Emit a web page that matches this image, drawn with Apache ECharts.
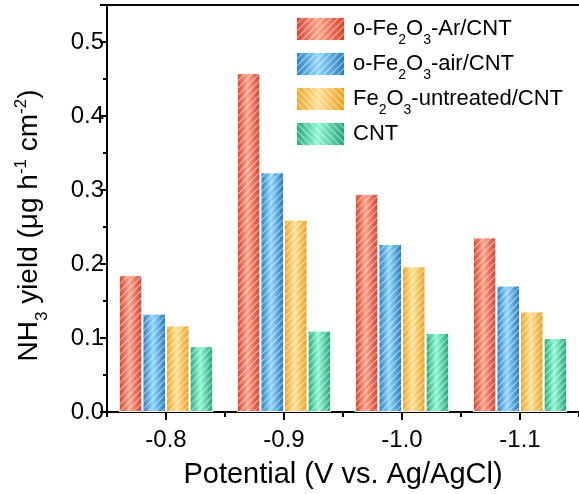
<!DOCTYPE html>
<html>
<head>
<meta charset="utf-8">
<script src="https://cdn.jsdelivr.net/npm/echarts@6/dist/echarts.min.js"></script>
<style>
  html, body { margin: 0; padding: 0; background: #fff; }
  #chart { width: 579px; height: 494px; }
</style>
</head>
<body>
<div id="chart"></div>
<script>
// Applied potentials (V vs. Ag/AgCl)
const potentials = ['-0.8', '-0.9', '-1.0', '-1.1'];

// NH3 yield (μg h-1 cm-2) for each catalyst
const yieldArCNT = [0.185, 0.458, 0.295, 0.236];
const yieldAirCNT = [0.133, 0.324, 0.227, 0.171];
const yieldUntreatedCNT = [0.117, 0.260, 0.197, 0.136];
const yieldCNT = [0.089, 0.110, 0.107, 0.100];

// Legend names (rich text markup for subscripts)
const seriesNames = [
  'o-Fe{s|2}O{s|3}-Ar/CNT',
  'o-Fe{s|2}O{s|3}-air/CNT',
  'Fe{s|2}O{s|3}-untreated/CNT',
  'CNT'
];

const FONT = 'Liberation Sans, Arial, sans-serif';

function shade(edgeL, mid, edgeR) {
  return {
    type: 'linear', x: 0, y: 0, x2: 1, y2: 0,
    colorStops: [
      { offset: 0, color: edgeL },
      { offset: 0.45, color: mid },
      { offset: 1, color: edgeR }
    ]
  };
}

// thin white diagonal hatching
function stripes(rot) {
  return {
    symbol: 'rect',
    symbolSize: 1,
    color: 'rgba(255,255,255,0.55)',
    dashArrayX: [1, 0],
    dashArrayY: [1, 4],
    rotation: rot
  };
}
const UP = -Math.PI / 4;   // "/" hatching
const DOWN = Math.PI / 4;  // "\" hatching

const fills = [
  shade('#d53d29', '#ffa48c', '#d43b27'),
  shade('#2379bd', '#92d6ff', '#2075b6'),
  shade('#eaa11d', '#ffe196', '#e89c18'),
  shade('#20a472', '#8ef8d4', '#1f9f6e')
];
const values = [yieldArCNT, yieldAirCNT, yieldUntreatedCNT, yieldCNT];

const chart = echarts.init(document.getElementById('chart'), null, { renderer: 'canvas' });

chart.setOption({
  animation: false,
  backgroundColor: '#fff',
  textStyle: { fontFamily: FONT },
  grid: { left: 107, right: 0, top: 5, bottom: 81, containLabel: false },
  legend: {
    orient: 'vertical',
    left: 295,
    top: 16,
    itemWidth: 49,
    itemHeight: 24,
    itemGap: 4,
    padding: 0,
    icon: 'rect',
    data: seriesNames.map((n, i) => ({
      name: n,
      itemStyle: { decal: stripes(i < 2 ? UP : DOWN) }
    })),
    textStyle: {
      fontSize: 22, color: '#000', fontFamily: FONT, lineHeight: 24, padding: [0, 0, 0, 3],
      rich: {
        s: { fontSize: 14, fontFamily: FONT, color: '#000', verticalAlign: 'bottom', lineHeight: 14, padding: [0, 0, -6, 0] }
      }
    }
  },
  xAxis: [
    {
      type: 'category',
      data: potentials,
      position: 'bottom',
      boundaryGap: true,
      axisLine: { show: true, lineStyle: { color: '#000', width: 2 } },
      axisTick: { show: true, alignWithLabel: true, inside: false, length: 8, lineStyle: { color: '#000', width: 2 } },
      axisLabel: { fontSize: 24, color: '#000', fontFamily: FONT, margin: 16 },
      name: 'Potential (V vs. Ag/AgCl)',
      nameLocation: 'middle',
      nameGap: 48,
      nameTextStyle: { fontSize: 29, color: '#000', fontFamily: FONT }
    },
    {
      // minor ticks at category boundaries
      type: 'value',
      min: 0, max: 4, interval: 1,
      position: 'bottom',
      axisLine: { show: false },
      axisTick: { show: true, length: 5, lineStyle: { color: '#000', width: 2 } },
      axisLabel: { show: false },
      splitLine: { show: false }
    },
    {
      // top frame line
      type: 'value',
      min: 0, max: 4,
      position: 'top',
      axisLine: { show: true, lineStyle: { color: '#000', width: 2 } },
      axisTick: { show: false },
      axisLabel: { show: false },
      splitLine: { show: false }
    }
  ],
  yAxis: {
    type: 'value',
    min: 0,
    max: 0.55,
    interval: 0.1,
    axisLine: { show: true, lineStyle: { color: '#000', width: 2 } },
    axisTick: { show: true, length: 7, lineStyle: { color: '#000', width: 2 } },
    minorTick: { show: true, splitNumber: 2, length: 4, lineStyle: { color: '#000', width: 2 } },
    splitLine: { show: false },
    axisLabel: {
      fontSize: 24, color: '#000', fontFamily: FONT, margin: 3,
      formatter: function (v) { return v.toFixed(1); },
      showMaxLabel: false
    },
    name: 'NH{s|3} yield (μg h{p|-1} cm{p|-2})',
    nameLocation: 'middle',
    nameGap: 62,
    nameRotate: 90,
    nameTextStyle: {
      fontSize: 28, color: '#000', fontFamily: FONT, lineHeight: 32,
      padding: [0, 34, 0, 0],
      rich: {
        s: { fontSize: 17, fontFamily: FONT, color: '#000', verticalAlign: 'bottom', lineHeight: 17, padding: [0, 0, -6, 0] },
        p: { fontSize: 17, fontFamily: FONT, color: '#000', verticalAlign: 'top', lineHeight: 17 }
      }
    }
  },
  series: values.map((arr, i) => ({
    name: seriesNames[i],
    type: 'bar',
    xAxisIndex: 0,
    data: arr,
    barGap: '0%',
    barCategoryGap: '20%',
    itemStyle: {
      color: fills[i],
      borderColor: 'rgba(255,255,255,0.7)',
      borderWidth: 1,
      decal: stripes(UP)
    },
    emphasis: { disabled: true }
  }))
});
</script>
</body>
</html>
